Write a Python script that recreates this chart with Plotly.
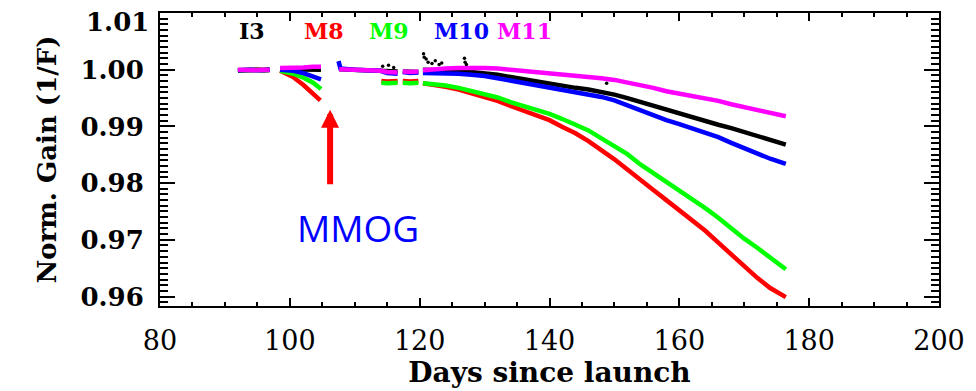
import plotly.graph_objects as go

# ---------------- data ----------------
# continuous part of the record (days since launch)
cont_days = [120.5, 122, 124, 126, 128, 130, 132, 134, 136, 138, 140, 142, 144, 146,
             148, 150, 152, 154, 156, 158, 160, 162, 164, 166, 168, 170, 172, 174, 176.4]

i3_days = [92.0, 93.0, 94.0, 95.0, 96.0, 96.9, None,
           98.5, 100.5, 102.0, 103.5, 104.8, None,
           107.6, 110.0, 112.0, 114.0, 115.0, 116.6, None,
           117.4, 118.5, 119.8, None] + cont_days
i3_vals = [0.9999, 1.0000, 0.9999, 1.0000, 0.9999, 1.0000, None,
           1.0001, 1.0001, 1.0001, 1.0001, 1.0000, None,
           1.0001, 1.0000, 0.9999, 1.0000, 0.9998, 0.9997, None,
           0.9997, 0.9996, 0.9996, None,
           1.0000, 1.0000, 0.9999, 0.9998, 0.9996, 0.9994, 0.9991, 0.9987, 0.9983, 0.9980,
           0.9976, 0.9972, 0.9968, 0.9965, 0.9961, 0.9956, 0.9950, 0.9943, 0.9936, 0.9930,
           0.9924, 0.9917, 0.9910, 0.9903, 0.9897, 0.9890, 0.9883, 0.9876, 0.9868]

# scattered I3 outlier points
i3_out_days = [114.3, 115.2, 116.0, 120.6, 120.7, 121.0, 121.3, 121.9, 122.4, 123.0, 123.4,
               126.9, 127.0, 127.2, 148.8]
i3_out_vals = [1.0006, 1.0008, 1.0004, 1.0028, 1.0022, 1.0019, 1.0013, 1.0011, 1.0016, 1.0009,
               1.0012, 1.0020, 1.0013, 1.0009, 0.9976]

m8_days = [92.0, 93.0, 94.0, 95.0, 96.0, 96.9, None,
           98.5, 100.5, 102.1, 103.6, 104.7, None,
           114.1, 115.0, 116.6, None,
           117.4, 118.5, 119.8, None] + cont_days
m8_vals = [0.9999, 0.9999, 1.0000, 0.9999, 0.9999, 1.0000, None,
           0.9998, 0.9987, 0.9973, 0.9956, 0.9946, None,
           0.9980, 0.9979, 0.9980, None,
           0.9980, 0.9979, 0.9980, None,
           0.9976, 0.9974, 0.9970, 0.9965, 0.9959, 0.9953, 0.9945, 0.9936, 0.9927, 0.9920,
           0.9911, 0.9899, 0.9888, 0.9874, 0.9859, 0.9842, 0.9824, 0.9805, 0.9788, 0.9770,
           0.9752, 0.9734, 0.9716, 0.9695, 0.9674, 0.9652, 0.9633, 0.9615, 0.9599]

m9_days = [92.0, 93.0, 94.0, 95.0, 96.0, 96.9, None,
           98.5, 100.5, 102.1, 103.6, 104.8, None,
           114.1, 115.0, 116.6, None,
           117.4, 118.5, 119.8, None] + cont_days
m9_vals = [0.9999, 1.0000, 0.9999, 0.9999, 1.0000, 0.9999, None,
           0.9998, 0.9993, 0.9986, 0.9977, 0.9966, None,
           0.9977, 0.9976, 0.9977, None,
           0.9977, 0.9976, 0.9977, None,
           0.9976, 0.9975, 0.9972, 0.9968, 0.9963, 0.9958, 0.9951, 0.9943, 0.9936, 0.9930,
           0.9922, 0.9913, 0.9904, 0.9893, 0.9879, 0.9866, 0.9851, 0.9833, 0.9818, 0.9803,
           0.9788, 0.9772, 0.9756, 0.9739, 0.9720, 0.9702, 0.9686, 0.9669, 0.9648]

m10_days = [92.0, 93.0, 94.0, 95.0, 96.0, 96.9, None,
            98.5, 100.5, 102.1, 103.6, 104.8, None,
            107.5, 107.8, 110.0, 112.0, 114.0, 115.0, 116.6, None,
            117.4, 118.5, 119.8, None] + cont_days
m10_vals = [0.9999, 1.0000, 1.0000, 0.9999, 0.9999, 1.0000, None,
            1.0000, 0.9998, 0.9994, 0.9989, 0.9983, None,
            1.0015, 1.0002, 1.0000, 0.9999, 0.9998, 0.9994, 0.9993, None,
            0.9996, 0.9994, 0.9995, None,
            0.9994, 0.9994, 0.9993, 0.9993, 0.9991, 0.9989, 0.9985, 0.9981, 0.9977, 0.9973,
            0.9968, 0.9964, 0.9960, 0.9956, 0.9952, 0.9946, 0.9937, 0.9928, 0.9919, 0.9911,
            0.9904, 0.9897, 0.9890, 0.9881, 0.9871, 0.9861, 0.9852, 0.9843, 0.9834]

m11_days = [92.0, 93.0, 94.0, 95.0, 96.0, 96.9, None,
            98.5, 100.5, 102.1, 103.6, 104.8, None,
            107.6, 110.0, 112.0, 114.0, 115.0, 116.6, None,
            117.4, 118.5, 119.8, None] + cont_days
m11_vals = [1.0000, 0.9999, 1.0000, 0.9999, 1.0000, 0.9999, None,
            1.0003, 1.0003, 1.0004, 1.0005, 1.0005, None,
            1.0001, 0.9999, 0.9999, 0.9998, 0.9996, 0.9995, None,
            0.9997, 0.9996, 0.9997, None,
            0.9999, 1.0001, 1.0002, 1.0003, 1.0004, 1.0003, 1.0002, 1.0000, 0.9999, 0.9997,
            0.9994, 0.9991, 0.9989, 0.9987, 0.9985, 0.9982, 0.9978, 0.9974, 0.9968, 0.9962,
            0.9958, 0.9954, 0.9950, 0.9945, 0.9939, 0.9934, 0.9929, 0.9924, 0.9918]

band_names = ["I3", "M8", "M9", "M10", "M11"]
band_colors = ["#000000", "#FF0000", "#00FF00", "#0000FF", "#FF00FF"]
band_label_days = [94.2, 105.3, 115.2, 126.5, 136.2]

x_ticks = [80, 100, 120, 140, 160, 180, 200]
y_ticks = [0.96, 0.97, 0.98, 0.99, 1.00, 1.01]
y_tick_text = ["0.96", "0.97", "0.98", "0.99", "1.00", ""]
top_label = "1.01"

# ---------------- figure ----------------
fig = go.Figure()

series = {
    "I3": (i3_days, i3_vals),
    "M8": (m8_days, m8_vals),
    "M9": (m9_days, m9_vals),
    "M10": (m10_days, m10_vals),
    "M11": (m11_days, m11_vals),
}
color_of = dict(zip(band_names, band_colors))

for name in ["M8", "M9", "I3", "M10", "M11"]:
    d, v = series[name]
    fig.add_trace(go.Scatter(x=d, y=v, mode="lines", name=name,
                             line=dict(color=color_of[name], width=4.5),
                             connectgaps=False, showlegend=False))

fig.add_trace(go.Scatter(x=i3_out_days, y=i3_out_vals, mode="markers",
                         marker=dict(color="#000000", size=3.5), showlegend=False))

serif = "DejaVu Serif"

for name, col, dx in zip(band_names, band_colors, band_label_days):
    fig.add_annotation(x=dx, y=0.94, xref="x", yref="paper", text="<b>%s</b>" % name,
                       showarrow=False, font=dict(family=serif, size=22, color=col),
                       xanchor="center", yanchor="middle")

# top tick label, drawn a little below the frame as in the reference
fig.add_annotation(x=0, y=0.97, xref="paper", yref="paper", text="<b>%s</b>" % top_label,
                   showarrow=False, xanchor="right", yanchor="middle", xshift=-9,
                   font=dict(family=serif, size=26, color="black"))

fig.add_annotation(x=110.5, y=0.9721, xref="x", yref="y", text="MMOG", showarrow=False,
                   font=dict(family="Open Sans", size=37, color="#0000FF"),
                   xanchor="center", yanchor="middle")

fig.add_annotation(x=106.2, y=0.99296, ax=106.2, ay=0.97952, xref="x", yref="y",
                   axref="x", ayref="y", text="", showarrow=True, arrowhead=2,
                   arrowwidth=6, arrowsize=0.6, arrowcolor="#FF0000", standoff=0)

fig.update_layout(
    width=976, height=391,
    margin=dict(l=160, r=36, t=11, b=79),
    paper_bgcolor="white", plot_bgcolor="white",
    xaxis=dict(range=[80, 200], tickvals=x_ticks, ticks="inside", ticklen=8, tickwidth=2,
               tickcolor="black", showline=True, linecolor="black", linewidth=2,
               mirror="ticks", showgrid=False, zeroline=False,
               tickfont=dict(family=serif, size=27, color="black"), ticklabelstandoff=10,
               minor=dict(dtick=5, tick0=80, ticks="inside", ticklen=4, tickcolor="black",
                          tickwidth=1.5, showgrid=False),
               title=dict(text="<b>Days since launch</b>", standoff=4,
                          font=dict(family=serif, size=28, color="black"))),
    yaxis=dict(range=[0.95833, 1.0100], tickvals=y_ticks, ticktext=y_tick_text,
               ticks="inside", ticklen=15, tickwidth=2, tickcolor="black",
               showline=True, linecolor="black", linewidth=2, mirror="ticks",
               showgrid=False, zeroline=False,
               tickfont=dict(family=serif, size=26, color="black", weight="bold"),
               ticklabelstandoff=9,
               minor=dict(dtick=0.001, tick0=0.96, ticks="inside", ticklen=8,
                          tickcolor="black", tickwidth=1.5, showgrid=False),
               title=dict(text="<b>Norm. Gain (1/F)</b>", standoff=16,
                          font=dict(family=serif, size=26, color="black"))),
)

fig.write_html("out.html")
